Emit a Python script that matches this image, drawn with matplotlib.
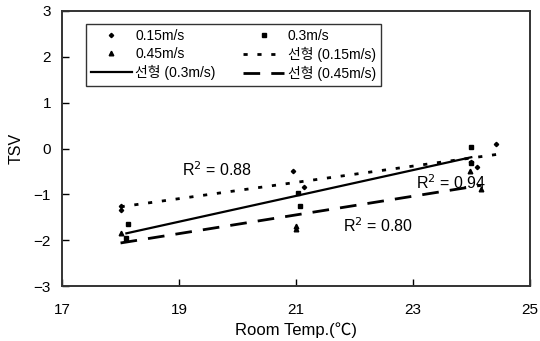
import matplotlib
matplotlib.use("Agg")
import matplotlib.pyplot as plt
import numpy as np

plt.rcParams['font.family'] = ['Liberation Sans', 'Noto Sans CJK KR', 'DejaVu Sans']

# data
x15 = [18.0, 18.0, 20.95, 21.13, 24.0, 24.1, 24.43]
y15 = [-1.25, -1.35, -0.49, -0.84, -0.30, -0.40, 0.10]
x30 = [18.13, 18.1, 21.03, 21.07, 24.0, 24.0]
y30 = [-1.65, -1.95, -0.97, -1.25, 0.03, -0.32]
x45 = [18.0, 18.1, 21.0, 21.0, 23.97, 24.17]
y45 = [-1.85, -1.98, -1.68, -1.76, -0.49, -0.88]
r2_labels = ["R$^2$ = 0.88", "R$^2$ = 0.94", "R$^2$ = 0.80"]
r2_pos = [(19.05, -0.47), (23.05, -0.75), (21.8, -1.69)]
xticks = [17, 19, 21, 23, 25]
yticks = [-3, -2, -1, 0, 1, 2, 3]

fig = plt.figure(figsize=(5.4, 3.41), dpi=100)
ax = fig.add_axes([0.115, 0.161, 0.866, 0.807])

def fit(x, y):
    k, b = np.polyfit(x, y, 1)
    xs = np.array([min(x), max(x)])
    return xs, k * xs + b

s15, = ax.plot(x15, y15, linestyle='none', marker='D', ms=2.2, color='black')
s30, = ax.plot(x30, y30, linestyle='none', marker='s', ms=3.0, color='black')
s45, = ax.plot(x45, y45, linestyle='none', marker='^', ms=3.3, color='black')

fx, fy = fit(x15, y15)
l15, = ax.plot(fx, fy, color='black', lw=2, linestyle=(0, (1.5, 3.5)))
fx, fy = fit(x30, y30)
l30, = ax.plot(fx, fy, color='black', lw=1.6, linestyle='-')
fx, fy = fit(x45, y45)
l45, = ax.plot(fx, fy, color='black', lw=2, linestyle=(0, (6, 4)))

for t, (px, py) in zip(r2_labels, r2_pos):
    ax.text(px, py, t, fontsize=11.5, ha='left', va='center')

ax.set_xlim(17, 25)
ax.set_ylim(-3, 3)
ax.set_xticks(xticks)
ax.set_yticks(yticks)
ax.tick_params(direction='in', length=5, width=1, labelsize=11, colors='black')
ax.tick_params(axis='x', pad=12)
ax.tick_params(axis='y', pad=8)
for sp in ax.spines.values():
    sp.set_linewidth(1.4)
    sp.set_color('#333333')

ax.set_xlabel('Room Temp.(℃)', fontsize=12, labelpad=4)
ax.set_ylabel('TSV', fontsize=11.5, labelpad=7)

leg = ax.legend([s15, s45, l30, s30, l15, l45],
                ['0.15m/s', '0.45m/s', '선형 (0.3m/s)', '0.3m/s', '선형 (0.15m/s)', '선형 (0.45m/s)'],
                ncol=2, loc='upper left', bbox_to_anchor=(0.051, 0.953),
                fontsize=10, frameon=True, fancybox=False, edgecolor='black',
                handlelength=2.95, handletextpad=0.25, columnspacing=2.0,
                labelspacing=0.3, borderpad=0.35, borderaxespad=0)
leg.get_frame().set_linewidth(1.0)

fig.savefig('out.png', dpi=100)
